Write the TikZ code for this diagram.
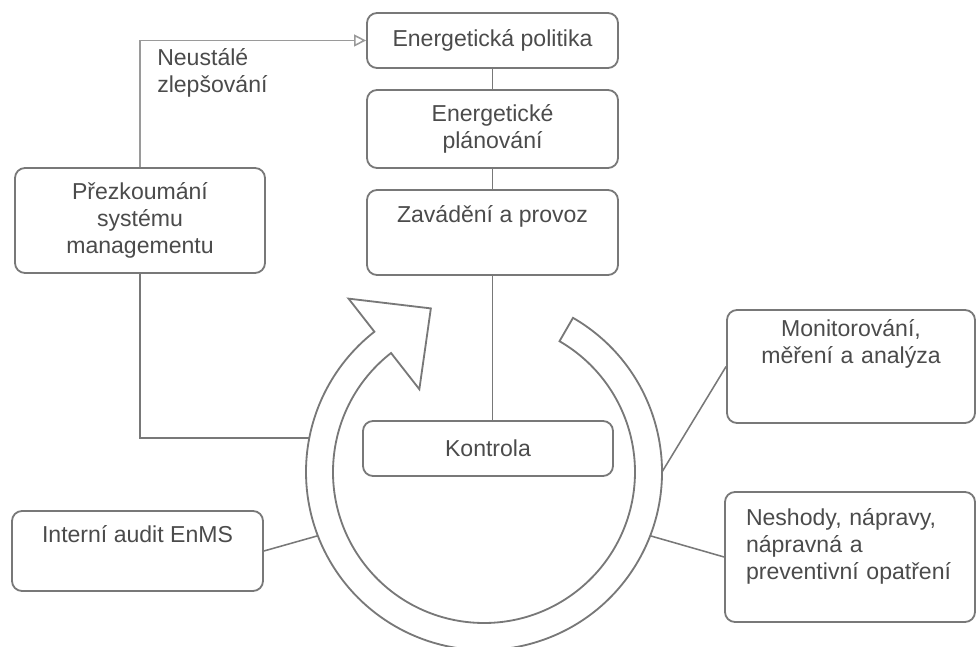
\documentclass[tikz,border=0pt]{standalone}
\usepackage{fontspec}
\setmainfont{Liberation Sans}
\usetikzlibrary{arrows.meta,positioning,calc}

\definecolor{inkgray}{RGB}{75,75,75}
\definecolor{linegray}{RGB}{120,120,120}
\tikzset{
  box/.style={draw=linegray, line width=1.3pt, rounded corners=2.5mm, text=inkgray, align=center, inner sep=0pt},
  link/.style={draw=linegray, line width=1.1pt},
  txt/.style={text=inkgray, inner sep=0pt}
}

\begin{document}
\begin{tikzpicture}[x=0.25mm, y=0.25mm, font=\fontsize{16.4pt}{19.2pt}\selectfont]
  \useasboundingbox (0,0) rectangle (977,647);

  % central column
  \node[box, minimum width=62.75mm, minimum height=13.75mm] (pol) at (492.5,606.5) {Energetická politika};
  \node[box, minimum width=62.75mm, minimum height=19.5mm] (plan) at (492.5,518) {Energetické\\plánování};
  \node[box, minimum width=62.75mm, text height=8.25mm, text depth=13mm, anchor=base] (zav) at (492.5,424) {Zavádění a provoz};
  \node[box, minimum width=62.5mm, minimum height=13.75mm] (kon) at (488,198.5) {Kontrola};

  % left side
  \node[box, minimum width=62.5mm, minimum height=26.25mm] (prez) at (140,426.5) {Přezkoumání\\systému\\managementu};
  \node[box, minimum width=62.75mm, text height=8mm, text depth=12mm, anchor=base] (audit) at (137.5,104) {Interní audit EnMS};
  \node[txt, align=left, anchor=north west] (zlep) at (157,599) {Neustálé\\zlepšování};

  % right side
  \node[box, text width=60mm, inner xsep=1mm, text height=6.75mm, text depth=21.5mm, anchor=base] (mon) at (851,310) {Monitorování,\\měření a analýza};
  \node[box, align=left, text width=52mm, inner xsep=5.25mm, text height=8.5mm, text depth=24mm, anchor=base] (nes) at (850,121) {Neshody, nápravy,\\nápravná a\\preventivní opatření};

  % ring arrow
  \begin{scope}[shift={(484,175)}]
    \draw[linegray, line width=1.3pt, line join=miter]
      (60:178) arc[start angle=60, end angle=-232, radius=178]
      -- (128:220) -- (108:172) -- (128:105) -- (128:151)
      arc[start angle=-232, end angle=60, radius=151] -- cycle;
    \coordinate (rl) at (169:178);
    \coordinate (ra) at (201:178);
    \coordinate (rm) at (0:178);
    \coordinate (rn) at (-21:178);
  \end{scope}

  % connectors
  \draw[link] (pol) -- (plan);
  \draw[link] (plan) -- (zav);
  \draw[link] (zav.south) -- (zav.south |- kon.north);
  \draw[link] (prez.south) |- (rl);
  \draw[link] (audit.east) -- (ra);
  \draw[link] (rm) -- (mon.west);
  \draw[link] (rn) -- (nes.west);
  \draw[link, draw=linegray!75, -{Triangle[open, length=3mm, width=3mm]}] (prez.north) |- (pol.west);
\end{tikzpicture}
\end{document}
